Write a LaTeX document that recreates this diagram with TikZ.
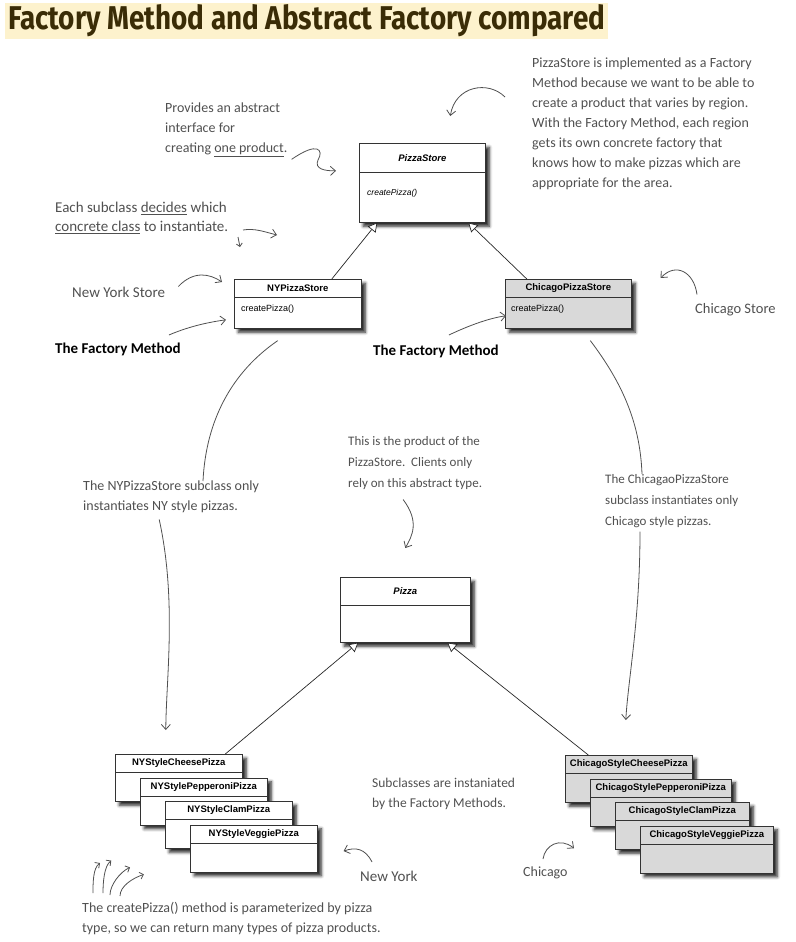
\documentclass[tikz,border=0pt]{standalone}
\usepackage{fontspec}
\setmainfont{Carlito}
\setsansfont{Liberation Sans}
\newfontfamily\titlefont{Fira Sans}
\usepackage{tikz}
\usetikzlibrary{positioning, arrows.meta, shadows.blur, calc}
\definecolor{notegray}{RGB}{80,80,80}
\definecolor{titlebrown}{RGB}{58,44,6}
\definecolor{titlebg}{RGB}{253,242,205}
\definecolor{storegray}{RGB}{217,217,217}

\begin{document}
\begin{tikzpicture}[x=1pt, y=-1pt,
    umlbox/.style={rectangle, draw=black!80, fill=white, line width=0.6pt, inner sep=0pt, anchor=north west,
      blur shadow={shadow xshift=4pt, shadow yshift=-4pt, shadow blur radius=3pt, shadow opacity=85}},
    header/.style={rectangle, draw=black!80, line width=0.6pt, inner sep=0pt, font=\sffamily\bfseries\fontsize{9.5}{10}\selectfont},
    method/.style={inner sep=0pt, font=\sffamily\fontsize{9}{10}\selectfont},
    note/.style={inner sep=0pt, align=left, anchor=north west, text=notegray, font=\fontsize{14}{20}\selectfont},
    fmlabel/.style={inner sep=0pt, anchor=west, font=\bfseries\fontsize{15}{18}\selectfont},
    inherit/.style={draw=black!85, line width=0.7pt, -{Triangle[fill=white, length=9pt, width=10pt]}},
    notearrow/.style={draw=notegray, line width=0.8pt, -{Straight Barb[length=5pt, width=9pt]}},
    noteline/.style={draw=notegray, line width=0.8pt}]

\useasboundingbox (0,0) rectangle (795,942);

% title
\node[fill=titlebg, inner xsep=3pt, inner ysep=1.5pt, anchor=north west, text=titlebrown] (title) at (5,3)
  {\resizebox{597pt}{25pt}{\titlefont\bfseries Factory Method and Abstract Factory compared}};

% creator classes
\node[umlbox, minimum width=126pt, minimum height=79pt] (store) at (359,143) {};
\node[header, minimum width=126pt, minimum height=29pt, below=0pt of store.north, font=\sffamily\bfseries\itshape\fontsize{9.5}{10}\selectfont] (storehead) {PizzaStore};
\node[method, below right=17pt and 8pt of storehead.south west, font=\sffamily\itshape\fontsize{8.5}{10}\selectfont] (storemeth) {createPizza()};

\node[umlbox, minimum width=127pt, minimum height=49pt] (nystore) at (234,279) {};
\node[header, minimum width=127pt, minimum height=18pt, below=0pt of nystore.north] (nyhead) {NYPizzaStore};
\node[method, below right=7pt and 7pt of nyhead.south west] (nymeth) {createPizza()};

\node[umlbox, fill=storegray, minimum width=126pt, minimum height=49pt] (chistore) at (505,279) {};
\node[header, fill=storegray, minimum width=126pt, minimum height=18pt, below=0pt of chistore.north] (chihead) {ChicagoPizzaStore};
\node[method, below right=7pt and 6pt of chihead.south west] (chimeth) {createPizza()};

% product classes
\node[umlbox, minimum width=130pt, minimum height=65pt] (pizza) at (340,577) {};
\node[header, minimum width=130pt, minimum height=28pt, below=0pt of pizza.north, font=\sffamily\bfseries\itshape\fontsize{9.5}{10}\selectfont] (pizzahead) {Pizza};

\foreach \nm [count=\i from 0] in {Cheese,Pepperoni,Clam,Veggie} {
  \node[umlbox, minimum width=127pt, minimum height=47pt] (ny\i) at ({115+25*\i},{754+23.5*\i}) {};
  \node[header, minimum width=127pt, minimum height=18pt, below=0pt of ny\i.north] {NYStyle\nm Pizza};
}
\foreach \nm/\w [count=\i from 0] in {Cheese/127,Pepperoni/141,Clam/134,Veggie/133} {
  \node[umlbox, fill=storegray, minimum width=\w pt, minimum height=47pt] (chi\i) at ({565+25*\i},{755+23.5*\i}) {};
  \node[header, fill=storegray, minimum width=\w pt, minimum height=18pt, below=0pt of chi\i.north] {ChicagoStyle\nm Pizza};
}

% inheritance
\draw[inherit] ([xshift=34pt]nystore.north) -- ([xshift=-45pt]store.south);
\draw[inherit] ([xshift=-41.5pt]chistore.north) -- ([xshift=46pt]store.south);
\draw[inherit] ([xshift=46.5pt]ny0.north) -- ([xshift=-47pt]pizza.south);
\draw[inherit] ([xshift=-40.5pt]chi0.north) -- ([xshift=42pt]pizza.south);

% notes
\node[note] (fmnote) at (532,58) {PizzaStore is implemented as a Factory\\
  Method because we want to be able to\\
  create a product that varies by region.\\
  With the Factory Method, each region\\
  gets its own concrete factory that\\
  knows how to make pizzas which are\\
  appropriate for the area.};
\node[note] (absnote) at (165,103) {Provides an abstract\\ interface for\\ creating \underline{one product}.};
\node[note, font=\fontsize{15}{19}\selectfont] (subnote) at (55,202) {Each subclass \underline{decides} which\\ \underline{concrete class} to instantiate.};
\node[note, anchor=west, font=\fontsize{15}{18}\selectfont] (nylbl) at (72,292) {New York Store};
\node[note, anchor=west, font=\fontsize{14.5}{18}\selectfont] (chilbl) at (695,310) {Chicago Store};
\node[fmlabel] (fmny) at (55,349) {The Factory Method};
\node[fmlabel] (fmchi) at (373,351) {The Factory Method};
\node[note] (nynote) at (83,481) {The NYPizzaStore subclass only\\ instantiates NY style pizzas.};
\node[note, font=\fontsize{13}{21}\selectfont] (prodnote) at (348,436) {This is the product of the\\ PizzaStore.\ \ Clients only\\ rely on this abstract type.};
\node[note, font=\fontsize{13}{21}\selectfont] (chinote) at (605,474) {The ChicagaoPizzaStore\\ subclass instantiates only\\ Chicago style pizzas.};
\node[note, font=\fontsize{13.5}{20}\selectfont] (subclnote) at (372,778) {Subclasses are instaniated\\ by the Factory Methods.};
\node[note, anchor=west, font=\fontsize{15}{18}\selectfont] (nyword) at (360,876) {New York};
\node[note, anchor=west] (chiword) at (523,873) {Chicago};
\node[note] (createnote) at (82,902) {The createPizza() method is parameterized by pizza\\ type, so we can return many types of pizza products.};

% note arrows
\coordinate (fmtail) at (505,97);
\draw[notearrow] (fmtail) .. controls (488,80) and (455,86) .. ([shift={(28,-27)}]store.north);
\draw[notearrow] ([shift={(4,2)}]absnote.south east) .. controls (318,141) and (324,150) .. (318,160) .. controls (314,169) and (325,171) .. ([shift={(-23,-12)}]store.west);
\coordinate (subtail) at (243,230);
\draw[notearrow] (subtail) .. controls (255,228) and (265,232) .. ([shift={(43,-44)}]nystore.north west);
\draw[notearrow, -{Straight Barb[length=3pt, width=6pt]}] ([shift={(-5,7)}]subtail) -- ++(2,10);
\draw[notearrow] ([xshift=13pt]nylbl.north east) .. controls (194,270) and (210,274) .. ([shift={(-12,3)}]nystore.north west);
\draw[notearrow] ([shift={(-12,-14)}]fmny.east) .. controls (190,326) and (210,322) .. ([shift={(-8,16)}]nystore.west);
\draw[notearrow] ([shift={(-50,-16)}]fmchi.east) .. controls (470,325) and (490,318) .. ([shift={(1,12)}]chistore.west);
\draw[notearrow] ([shift={(2,-9)}]chilbl.north west) .. controls (694,272) and (676,262) .. ([shift={(29,-1)}]chistore.north east);

\draw[noteline] ([shift={(-20,12)}]nystore.south) .. controls (232,372) and (206,420) .. ([xshift=120pt]nynote.north west);
\draw[notearrow] ([shift={(-100,6)}]nynote.south east) .. controls (177,600) and (166,680) .. ([shift={(-13,-24)}]ny0.north);
\draw[noteline] ([shift={(22,12)}]chistore.south) .. controls (620,380) and (640,420) .. ([xshift=37pt]chinote.north west);
\draw[notearrow] ([shift={(35,4)}]chinote.south west) .. controls (640,620) and (628,680) .. ([shift={(-3,-35)}]chi0.north);
\draw[notearrow] ([shift={(-12,10)}]prodnote.south) .. controls (420,522) and (412,536) .. ([shift={(0,-29)}]pizza.north);
\draw[notearrow] ([shift={(12,-14)}]nyword.west) .. controls (365,848) and (355,847) .. ([shift={(26,-21)}]ny3.south east);
\draw[notearrow] ([shift={(20,-14)}]chiword.west) .. controls (545,845) and (560,837) .. ([shift={(-66,-1)}]chi3.west);

\foreach \a/\b/\c/\d in {93/893/93/868,103/893/104/866,110/895/120/872,120/896/133/878} {
  \coordinate (tail) at (\a,\b);
  \draw[notearrow, -{Straight Barb[length=3.5pt, width=7pt]}] (tail) .. controls (\a,{\b-10}) and (\c,\d) .. ++({(\c-\a)*1.3+7},{(\d-\b)*1.2});
}
\end{tikzpicture}
\end{document}
